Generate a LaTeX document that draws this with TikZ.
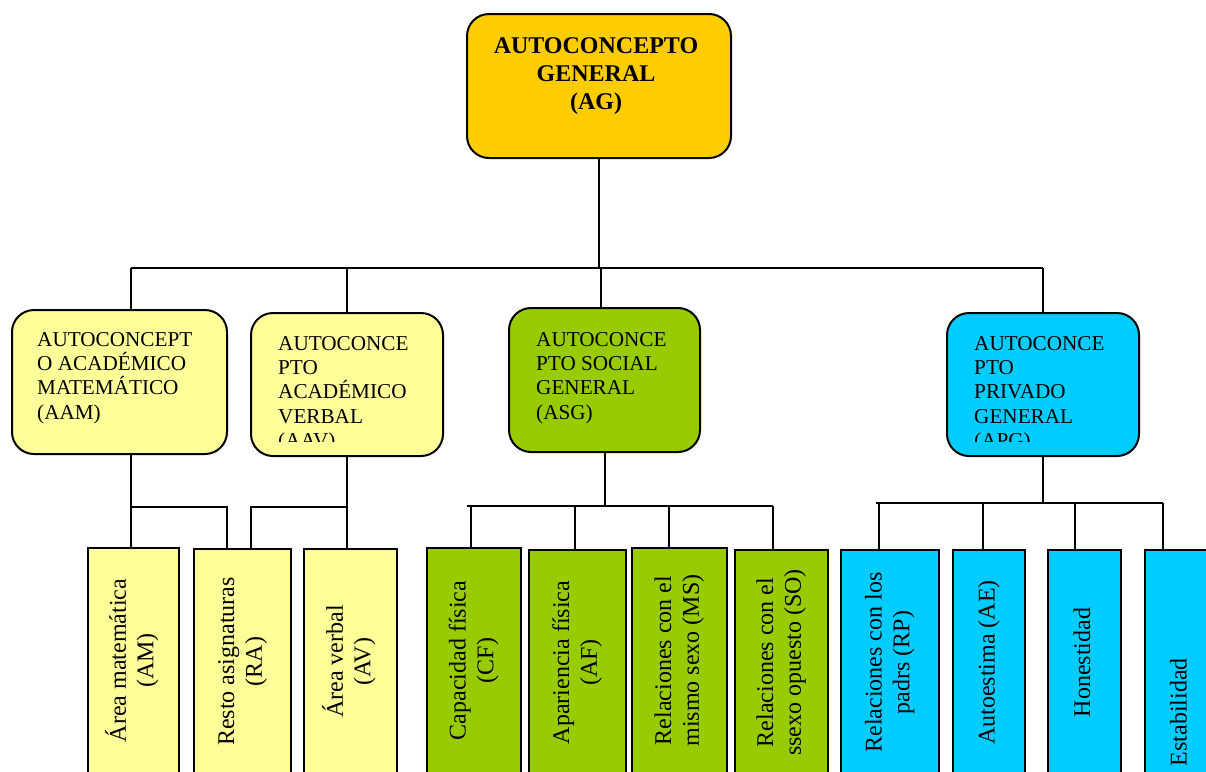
\documentclass[tikz,border=0pt]{standalone}
\usepackage{fontspec}
\setmainfont{Liberation Serif}
\definecolor{agcol}{HTML}{FFCC00}
\definecolor{acadcol}{HTML}{FFFF99}
\definecolor{socialcol}{HTML}{99CC00}
\definecolor{privcol}{HTML}{00CCFF}
\newcommand{\leaftext}[1]{\rotatebox{90}{\begin{tabular}{@{}c@{}}#1\end{tabular}}}

\begin{document}
\begin{tikzpicture}[
  x=1pt, y=-1pt,
  topbox/.style={draw=black, line width=2pt, rounded corners=22pt, inner sep=0pt},
  boxtext/.style={inner sep=0pt, align=left, anchor=north west, font=\fontsize{21.2}{24.3}\selectfont},
  leaf/.style={draw=black, line width=2pt, inner sep=0pt, anchor=north, minimum height=225, font=\fontsize{24}{27.6}\selectfont},
  link/.style={line width=1.8pt}
]
\path[use as bounding box] (0,0) rectangle (1206,771);
\clip (0,0) rectangle (1206,771);

% top level
\node[topbox, fill=agcol, minimum width=264, minimum height=144] (ag) at (599,86) {};
\node[inner sep=0pt, anchor=north, align=center, font=\fontsize{24}{28}\selectfont\bfseries] (agtext) at (596,37) {AUTOCONCEPTO\\GENERAL\\(AG)};

% second level
\node[topbox, fill=acadcol, minimum width=215, minimum height=144] (aam) at (119.5,382) {};
\node[topbox, fill=acadcol, minimum width=192, minimum height=143] (aav) at (347,384.5) {};
\node[topbox, fill=socialcol, minimum width=191, minimum height=144] (asg) at (604.5,380) {};
\node[topbox, fill=privcol, minimum width=192, minimum height=143] (apg) at (1043,384.5) {};

\node[boxtext] (aamtext) at (37,332) {AUTOCONCEPT\\O ACADÉMICO\\MATEMÁTICO\\(AAM)};
\node[boxtext] (asgtext) at (536,332) {AUTOCONCE\\PTO SOCIAL\\GENERAL\\(ASG)};
\begin{scope}
  \clip (aav.north west) rectangle ([yshift=16pt]aav.south east);
  \node[boxtext] (aavtext) at (278,336) {AUTOCONCE\\PTO\\ACADÉMICO\\VERBAL\\(AAV)};
\end{scope}
\begin{scope}
  \clip (apg.north west) rectangle ([yshift=16pt]apg.south east);
  \node[boxtext] (apgtext) at (974,336) {AUTOCONCE\\PTO\\PRIVADO\\GENERAL\\(APG)};
\end{scope}

% third level
\node[leaf, fill=acadcol, minimum width=91] (am) at (133.5,547) {\leaftext{Área matemática\\(AM)}};
\node[leaf, fill=acadcol, minimum width=97] (ra) at (242.5,548) {\leaftext{Resto asignaturas\\(RA)}};
\node[leaf, fill=acadcol, minimum width=93] (av) at (350.5,548) {\leaftext{Área verbal\\(AV)}};
\node[leaf, fill=socialcol, minimum width=94] (cf) at (474,547) {\leaftext{Capacidad física\\(CF)}};
\node[leaf, fill=socialcol, minimum width=97] (af) at (577.5,549) {\leaftext{Apariencia física\\(AF)}};
\node[leaf, fill=socialcol, minimum width=95] (ms) at (679.5,547) {\leaftext{Relaciones con el\\mismo sexo (MS)}};
\node[leaf, fill=socialcol, minimum width=93] (so) at (781.5,549) {\leaftext{Relaciones con el\\ssexo opuesto (SO)}};
\node[leaf, fill=privcol, minimum width=98] (rp) at (890,549) {\leaftext{Relaciones con los\\padrs (RP)}};
\node[leaf, fill=privcol, minimum width=72] (ae) at (989,549) {\leaftext{Autoestima (AE)}};
\node[leaf, fill=privcol, minimum width=73] (hon) at (1084.5,549) {\leaftext{Honestidad}};
\node[leaf, fill=privcol, minimum width=72, minimum height=324] (est) at (1181,549) {\leaftext{Estabilidad}};

% connectors from the top
\coordinate (busL) at (131,268);
\coordinate (busR) at (1043,268);
\draw[link] (ag.south) -- (ag.south |- busL);
\draw[link] (busL) -- (busR);
\draw[link] (busL) -- (busL |- aam.north);
\draw[link] (aav.north) -- (aav.north |- busL);
\draw[link] ([xshift=-3.5pt]asg.north) -- ([xshift=-3.5pt]asg.north |- busL);
\draw[link] (apg.north) -- (busR);

% academic branches
\coordinate (jam) at (131,507);
\coordinate (jav) at (347,507);
\draw[link] (busL |- aam.south) -- (busL |- am.north);
\draw[link] (jam) -| ([xshift=-15.5pt]ra.north);
\draw[link] (aav.south) -- (aav.south |- av.north);
\draw[link] (jav) -| ([xshift=8.5pt]ra.north);

% social branches
\coordinate (sgL) at (467,506);
\coordinate (sgR) at (773,506);
\draw[link] ([xshift=0.5pt]asg.south) -- ([xshift=0.5pt]asg.south |- sgL);
\draw[link] (sgL) -- (sgR);
\foreach \n/\dx in {cf/-3,af/-2.5,ms/-10.5,so/-8.5}
  \draw[link] ([xshift=\dx pt]\n.north) -- ([xshift=\dx pt]\n.north |- sgL);

% private branches
\coordinate (pgL) at (876,503);
\coordinate (pgR) at (1163,503);
\draw[link] (apg.south) -- (apg.south |- pgL);
\draw[link] (pgL) -- (pgR);
\foreach \n/\dx in {rp/-11,ae/-6,hon/-9.5,est/-18}
  \draw[link] ([xshift=\dx pt]\n.north) -- ([xshift=\dx pt]\n.north |- pgL);
\end{tikzpicture}
\end{document}
